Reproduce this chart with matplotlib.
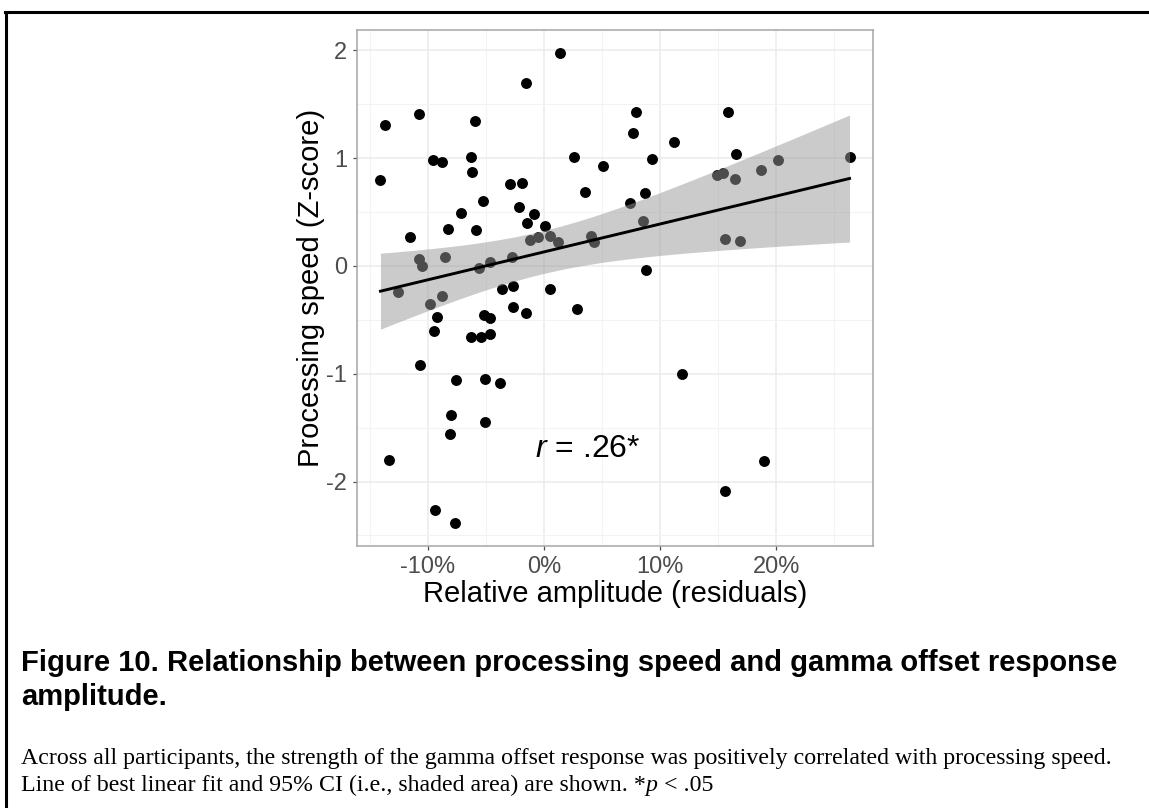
import numpy as np
import matplotlib
matplotlib.use("Agg")
import matplotlib.pyplot as plt
from matplotlib.lines import Line2D
from matplotlib.ticker import FuncFormatter, MultipleLocator

plt.rcParams["font.family"] = ["Liberation Sans", "DejaVu Sans"]
plt.rcParams["axes.unicode_minus"] = False
plt.rcParams["mathtext.fontset"] = "custom"
plt.rcParams["mathtext.rm"] = "Liberation Sans"
plt.rcParams["mathtext.it"] = "Liberation Sans:italic"

# relative amplitude residuals (%) and processing speed z-scores, one per participant
amp_pct = [
    -14.1, -13.7, -10.75, -11.55, -9.6, -8.8, -10.8, -10.5, -8.3, -8.5,
    -7.2, -6.0, -6.3, -6.2, -5.3, -5.9, -5.6, -4.7, -2.9, -1.9,
    -1.6, 1.35, -2.2, -0.86, -1.47, 0.06, -1.18, -0.5, 0.54, 1.23,
    -2.76, 2.6, 3.5, 5.1, 4.0, 4.3, 7.9, 7.65, 11.15, 9.3,
    8.7, 7.35, 8.5, 8.8, 15.8, 16.5, 14.9, 15.4, 16.4, 18.7,
    20.1, 26.3, 15.6, 16.9, -12.6, -9.8, -8.8, -9.2, -9.5, -10.7,
    -7.6, -8.0, -8.1, -13.4, -9.4, -7.7, -6.3, -5.4, -4.7, -5.2,
    -4.7, -5.1, -3.8, -5.1, -3.6, -2.65, -2.65, -1.55, 0.54, 2.8,
    11.85, 18.9, 15.6,
]
speed_z = [
    0.80, 1.31, 1.41, 0.27, 0.98, 0.96, 0.065, 0.003, 0.34, 0.086,
    0.49, 1.34, 1.01, 0.87, 0.60, 0.33, -0.02, 0.04, 0.76, 0.77,
    1.70, 1.97, 0.55, 0.48, 0.40, 0.37, 0.24, 0.27, 0.28, 0.22,
    0.083, 1.01, 0.685, 0.93, 0.28, 0.22, 1.43, 1.23, 1.15, 0.99,
    0.68, 0.58, 0.42, -0.04, 1.43, 1.04, 0.84, 0.86, 0.81, 0.89,
    0.98, 1.01, 0.25, 0.23, -0.24, -0.35, -0.28, -0.47, -0.60, -0.92,
    -1.06, -1.38, -1.56, -1.80, -2.26, -2.38, -0.66, -0.66, -0.63, -0.46,
    -0.48, -1.05, -1.09, -1.45, -0.21, -0.19, -0.38, -0.435, -0.21, -0.40,
    -1.00, -1.81, -2.09,
]

r_label = ".26*"
x_ticks = [-10, 0, 10, 20]
y_ticks = [-2, -1, 0, 1, 2]

caption_title = ["Figure 10. Relationship between processing speed and gamma offset response",
                 "amplitude."]
caption_body_1 = ("Across all participants, the strength of the gamma offset response "
                  "was positively correlated with processing speed.")
# second caption line, split where the italic p goes
caption_body_2 = ["Line of best linear fit and 95% CI (i.e., shaded area) are shown. *",
                  "p", " < .05"]

T975 = 1.99  # t quantile, df ~ 80

x = np.array(amp_pct)
y = np.array(speed_z)

# linear fit + 95% confidence band (like geom_smooth(method = "lm"))
n = len(x)
slope, intercept = np.polyfit(x, y, 1)
resid = y - (slope * x + intercept)
s_err = np.sqrt(np.sum(resid ** 2) / (n - 2))
xs = np.linspace(x.min(), x.max(), 200)
ys = slope * xs + intercept
se = s_err * np.sqrt(1 / n + (xs - x.mean()) ** 2 / np.sum((x - x.mean()) ** 2))

W, H = 1149, 808
fig = plt.figure(figsize=(W / 100, H / 100), dpi=100)
ax = fig.add_axes([357 / W, 1 - 546 / H, 516 / W, 516 / H])

ax.scatter(x, y, s=62, color="black", linewidths=0, zorder=3)
ax.fill_between(xs, ys - T975 * se, ys + T975 * se, color="#999999", alpha=0.5,
                linewidth=0, zorder=4)
ax.plot(xs, ys, color="black", lw=2.1, zorder=5)

# ggplot-style 5% expansion
xpad = 0.05 * (x.max() - x.min())
ypad = 0.05 * (y.max() - y.min())
ax.set_xlim(x.min() - xpad, x.max() + xpad)
ax.set_ylim(y.min() - ypad, y.max() + ypad)

ax.set_xticks(x_ticks)
ax.set_yticks(y_ticks)
ax.xaxis.set_minor_locator(MultipleLocator(5))
ax.yaxis.set_minor_locator(MultipleLocator(0.5))
ax.xaxis.set_major_formatter(FuncFormatter(lambda v, p: f"{v:.0f}%"))
ax.grid(which="major", color="#EBEBEB", lw=1.1, zorder=0)
ax.grid(which="minor", color="#F3F3F3", lw=0.8, zorder=0)
ax.set_axisbelow(True)
ax.tick_params(which="major", length=3, width=0.9, color="#4D4D4D",
               labelcolor="#4D4D4D", labelsize=17, pad=4)
ax.tick_params(which="minor", length=0)
for sp in ax.spines.values():
    sp.set_color("#A6A6A6")
    sp.set_linewidth(1.1)

ax.set_xlabel("Relative amplitude (residuals)", fontsize=21, labelpad=2)
ax.set_ylabel("Processing speed (Z-score)", fontsize=21, labelpad=1)

ax.text(3.75, -1.70, r"$r$ = " + r_label, fontsize=23, ha="center", va="center", zorder=6)

# page frame (top and left rules)
fig.add_artist(Line2D([5 / W, 1], [1 - 11.5 / H, 1 - 11.5 / H], color="black", lw=2.2,
                      transform=fig.transFigure))
fig.add_artist(Line2D([6 / W, 6 / W], [0, 1 - 11.5 / H], color="black", lw=2.2,
                      transform=fig.transFigure))

fig.text(21 / W, 1 - 671 / H, caption_title[0], fontsize=21, fontweight="bold",
         va="baseline")
fig.text(21 / W, 1 - 705 / H, caption_title[1], fontsize=21, fontweight="bold",
         va="baseline")
serif = ["Liberation Serif", "DejaVu Serif"]
fig.text(21 / W, 1 - 764 / H, caption_body_1, fontsize=17.2, family=serif, va="baseline")

renderer = fig.canvas.get_renderer()
x_px = 21
for part in caption_body_2:
    t = fig.text(x_px / W, 1 - 791 / H, part, fontsize=17.2, family=serif,
                 style="italic" if part == "p" else "normal", va="baseline")
    x_px += t.get_window_extent(renderer).width

fig.savefig("out.png", dpi=100)
